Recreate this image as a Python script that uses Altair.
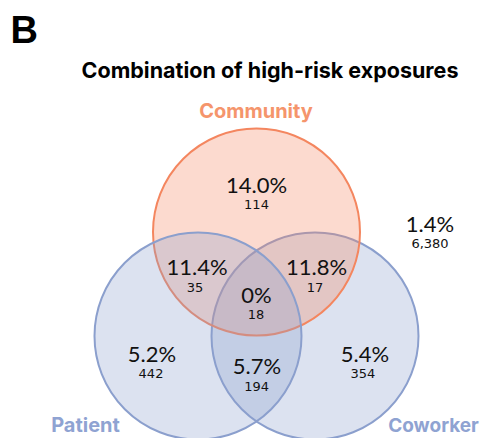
import altair as alt
import pandas as pd

# ---- data ----
set_names = ["Community", "Patient", "Coworker"]
region_pct = ["14.0%", "11.4%", "11.8%", "0%", "5.2%", "5.7%", "5.4%", "1.4%"]
region_n = ["114", "35", "17", "18", "442", "194", "354", "6,380"]
panel_letter = "B"
chart_title = "Combination of high-risk exposures"

# ---- layout (page pixel coordinates) ----
circle_cx = [256.5, 198, 315]
circle_cy = [232, 336, 336]
circle_r = [103.5, 103.5, 103.5]
circle_layer = [1, 2, 0]  # coworker below, community middle, patient on top
circle_stroke = ["#f4865f", "#8b9fcd", "#8b9fcd"]
label_color = ["#f5956c", "#8fa3d2", "#8fa3d2"]
label_size = [20, 20, 19]
label_x = [256, 85.5, 433.5]
label_y = [118, 432, 432]

region_x = [256.5, 197, 316.5, 256.5, 152, 257, 365, 430]
region_y_pct = [193, 275, 275, 303, 362, 374, 362, 232]
region_n_x = [256.5, 195, 315, 256, 151, 256.7, 362.8, 430]
region_y_n = [209, 292, 292, 319, 378, 391, 378, 248]

circles = pd.DataFrame({
    "name": set_names,
    "cx": circle_cx,
    "cy": circle_cy,
    "size": [(2 * r) ** 2 for r in circle_r],
    "stroke": circle_stroke,
    "layer": circle_layer,
})

labels = pd.DataFrame({"name": set_names, "x": label_x, "y": label_y,
                       "color": label_color, "fs": label_size})
regions = pd.DataFrame({
    "pct": region_pct, "n": region_n,
    "x": region_x, "yp": region_y_pct, "xn": region_n_x, "yn": region_y_n,
})
head = pd.DataFrame({"t": [panel_letter, chart_title], "x": [10.5, 270], "y": [43, 78]})

W, H = 472, 430
xs = alt.Scale(domain=[8, 8 + W], nice=False, zero=False)
ys = alt.Scale(domain=[8, 8 + H], nice=False, zero=False, reverse=True)

circ = alt.Chart(circles).mark_circle(fillOpacity=0.3, strokeWidth=2, strokeOpacity=1).encode(
    x=alt.X("cx:Q", scale=xs, axis=None),
    y=alt.Y("cy:Q", scale=ys, axis=None),
    size=alt.Size("size:Q", scale=None, legend=None),
    fill=alt.Fill("stroke:N", scale=None, legend=None),
    stroke=alt.Stroke("stroke:N", scale=None, legend=None),
    order=alt.Order("layer:Q"),
)

lab = alt.Chart(labels).mark_text(font="Inter", fontWeight="bold", baseline="alphabetic", align="center").encode(
    x=alt.X("x:Q", scale=xs, axis=None),
    y=alt.Y("y:Q", scale=ys, axis=None),
    text="name:N",
    size=alt.Size("fs:Q", scale=None, legend=None),
    color=alt.Color("color:N", scale=None, legend=None),
)

pct = alt.Chart(regions).mark_text(font="Lato", fontSize=22, baseline="alphabetic", align="center", color="#111111").encode(
    x=alt.X("x:Q", scale=xs, axis=None),
    y=alt.Y("yp:Q", scale=ys, axis=None),
    text="pct:N",
)

cnt = alt.Chart(regions).mark_text(font="DejaVu Sans", fontSize=13, baseline="alphabetic", align="center", color="#111111").encode(
    x=alt.X("xn:Q", scale=xs, axis=None),
    y=alt.Y("yn:Q", scale=ys, axis=None),
    text="n:N",
)

letter = alt.Chart(head.iloc[[0]]).mark_text(font="Liberation Sans", fontWeight="bold", fontSize=38, baseline="alphabetic", align="left", color="#000000").encode(
    x=alt.X("x:Q", scale=xs, axis=None),
    y=alt.Y("y:Q", scale=ys, axis=None),
    text="t:N",
)

title = alt.Chart(head.iloc[[1]]).mark_text(font="Inter", fontWeight="bold", fontSize=21.5, baseline="alphabetic", align="center", color="#000000").encode(
    x=alt.X("x:Q", scale=xs, axis=None),
    y=alt.Y("y:Q", scale=ys, axis=None),
    text="t:N",
)

chart = alt.layer(circ, lab, pct, cnt, letter, title).properties(
    width=W, height=H, padding=0,
    autosize=alt.AutoSizeParams(type="none"),
    background="white",
).configure_view(stroke=None)

chart.save("out.html", embed_options={"renderer": "svg", "actions": False})
